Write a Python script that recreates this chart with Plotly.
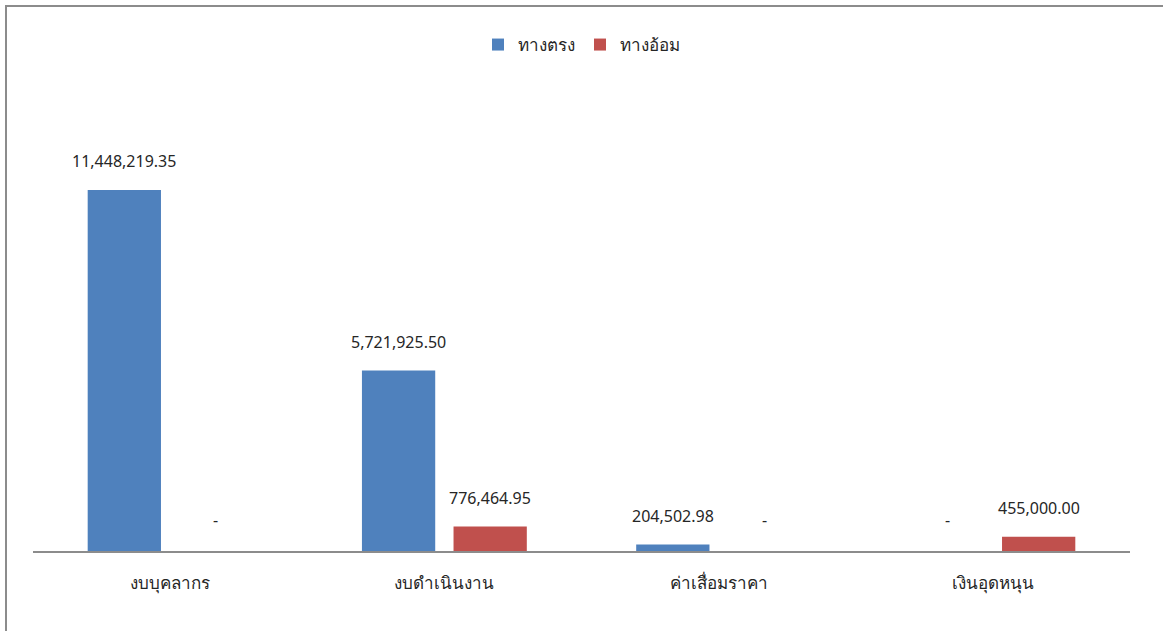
import plotly.graph_objects as go

categories = ["งบบุคลากร", "งบดำเนินงาน", "ค่าเสื่อมราคา", "เงินอุดหนุน"]
series_names = ["ทางตรง", "ทางอ้อม"]
direct_values = [11448219.35, 5721925.50, 204502.98, 0]
indirect_values = [0, 776464.95, 0, 455000.00]
colors = ["#4F81BD", "#C0504D"]

FONT = "Noto Sans, DejaVu Sans, sans-serif"

fig = go.Figure()
for name, vals, col in zip(series_names, [direct_values, indirect_values], colors):
    fig.add_trace(go.Bar(x=categories, y=vals, name=name, marker_color=col,
                         marker_line_width=0))

W, H = 1163, 631
ml, mr, mt, mb = 33, 33, 100, 80
pw = W - ml - mr
cat_w = pw / len(categories)
bargap = 0.332
slot = cat_w * (1 - bargap) / 2

def fmt(v):
    return "-" if v == 0 else f"{v:,.2f}"

annotations = []
for si, vals in enumerate([direct_values, indirect_values]):
    shift = (si - 0.5) * slot
    for c, v in zip(categories, vals):
        annotations.append(dict(x=c, y=v, xref="x", yref="y", text=fmt(v),
                                showarrow=False, xshift=shift, yshift=16 if v else 18,
                                yanchor="bottom",
                                font=dict(family=FONT, size=16, color="#262626")))

ph = H - mt - mb
def px_x(p):
    return (p - ml) / pw
def px_y(p):
    return (H - mb - p) / ph

fig.update_layout(
    width=W, height=H,
    margin=dict(l=ml, r=mr, t=mt, b=mb),
    paper_bgcolor="white", plot_bgcolor="white",
    barmode="group", bargap=bargap, bargroupgap=0.2,
    font=dict(family=FONT, size=16, color="#262626"),
    showlegend=True,
    legend=dict(orientation="h", x=0.5, xanchor="center", y=px_y(45), yanchor="middle",
                font=dict(family=FONT, size=17), itemwidth=30, traceorder="normal"),
    xaxis=dict(showline=True, linecolor="#8c8c8c", linewidth=2, ticks="",
               showgrid=False, ticklabelstandoff=16,
               tickfont=dict(family=FONT, size=17, color="#262626")),
    yaxis=dict(range=[0, 14.3e6], visible=False, showgrid=False, zeroline=False),
    annotations=annotations,
    shapes=[dict(type="rect", xref="paper", yref="paper",
                 x0=px_x(6), x1=px_x(1175), y0=px_y(645), y1=px_y(6),
                 line=dict(color="#8c8c8c", width=2), fillcolor="rgba(0,0,0,0)",
                 layer="above")],
)

fig.write_html("out.html", config={"displayModeBar": False},
               post_script="document.body.style.margin='0';document.body.style.overflow='hidden';")
